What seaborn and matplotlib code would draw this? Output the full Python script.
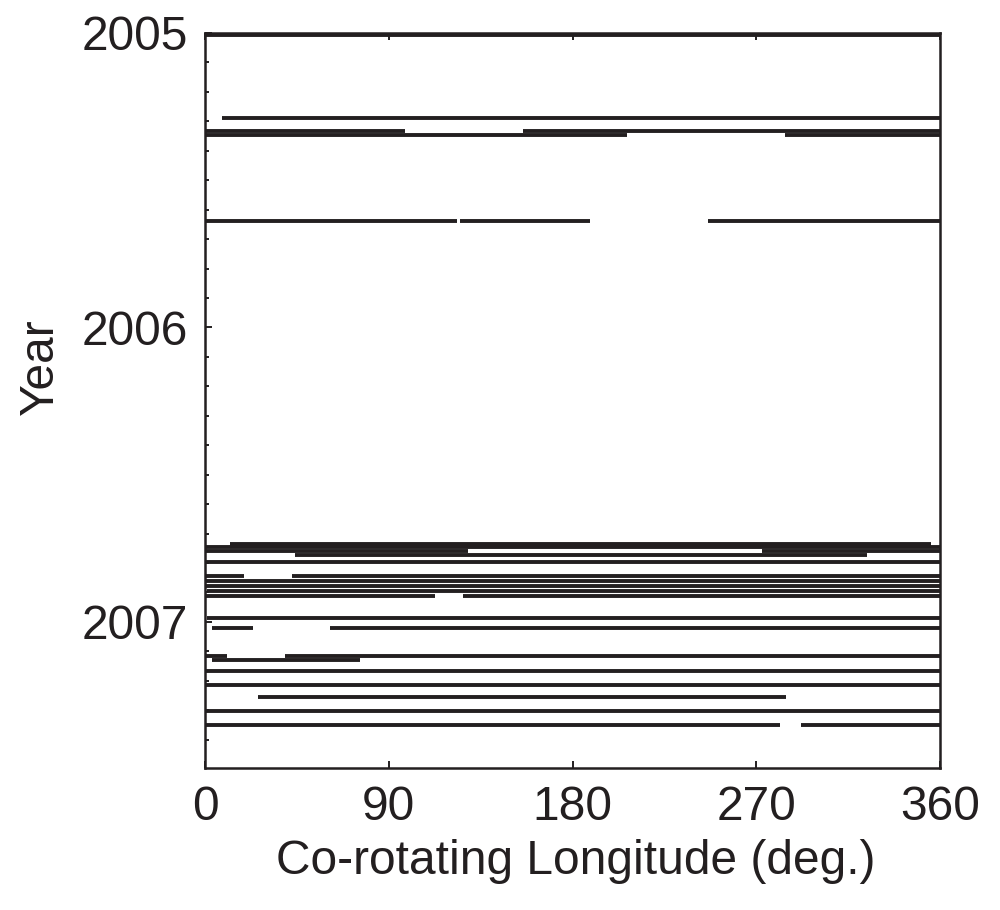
import numpy as np
import pandas as pd
import matplotlib
matplotlib.use("Agg")
import matplotlib.pyplot as plt
import seaborn as sns
from matplotlib.ticker import MultipleLocator

# Observation tracks: each row is one horizontal segment (year, longitude span)
seg_year = [
    2005.006, 2005.287,
    2005.334, 2005.334,
    2005.348, 2005.348,
    2005.640, 2005.640, 2005.640,
    2006.737, 2006.747,
    2006.759, 2006.759,
    2006.772, 2006.797,
    2006.845, 2006.845,
    2006.862, 2006.879, 2006.895,
    2006.912, 2006.912,
    2006.987,
    2007.021, 2007.021,
    2007.114, 2007.114,
    2007.129, 2007.168, 2007.214, 2007.256, 2007.302,
    2007.351, 2007.351,
]
seg_lon_start = [
    0.0, 8.3,
    0.0, 155.8,
    0.0, 284.0,
    0.0, 124.9, 246.4,
    12.2, 0.0,
    0.0, 272.8,
    44.0, 0.0,
    0.0, 42.5,
    0.0, 0.0, 1.0,
    0.0, 126.4,
    1.0,
    3.3, 61.2,
    0.0, 39.2,
    3.3, 0.0, 0.0, 26.2, 0.0,
    0.0, 291.7,
]
seg_lon_end = [
    360.0, 360.0,
    98.0, 360.0,
    206.7, 360.0,
    123.4, 188.6, 360.0,
    355.6, 360.0,
    128.8, 360.0,
    324.3, 360.0,
    19.0, 360.0,
    360.0, 360.0, 360.0,
    112.7, 360.0,
    360.0,
    23.7, 360.0,
    10.7, 360.0,
    76.0, 360.0, 360.0, 284.7, 360.0,
    281.5, 360.0,
]

x_ticks = [0, 90, 180, 270, 360]
y_ticks = [2005, 2006, 2007]

INK = "#231f20"
FS = 34.5

sns.set_theme(style="ticks")
plt.rcParams["font.family"] = ["Liberation Sans", "DejaVu Sans"]

segments = pd.DataFrame({
    "seg": np.repeat(np.arange(len(seg_year)), 2),
    "lon": np.ravel(np.column_stack([seg_lon_start, seg_lon_end])),
    "year": np.repeat(seg_year, 2),
})

fig = plt.figure(figsize=(10, 9.1), dpi=100)
ax = fig.add_axes([0.205, 1 - 768 / 910, 0.735, 735 / 910])

sns.lineplot(
    data=segments, x="lon", y="year", units="seg", estimator=None,
    sort=False, color=INK, linewidth=2.8, solid_capstyle="butt",
    legend=False, ax=ax,
)
for line in ax.get_lines():
    line.set_linewidth(2.8)
    line.set_clip_on(False)

ax.set_xlim(0, 360)
ax.set_ylim(2007.496, 2005)
ax.grid(False)

ax.set_xticks(x_ticks)
ax.set_xticklabels([str(v) for v in x_ticks])
ax.set_yticks(y_ticks)
ax.set_yticklabels([str(v) for v in y_ticks])
ax.yaxis.set_minor_locator(MultipleLocator(0.1))

ax.tick_params(axis="both", which="major", direction="in", length=5,
               width=1.4, colors=INK, labelsize=FS, pad=12)
ax.tick_params(axis="x", which="both", top=True, bottom=True)
ax.tick_params(axis="y", which="both", left=True, right=False)
ax.tick_params(axis="y", which="minor", direction="in", length=3,
               width=1.4, color=INK)

for spine in ax.spines.values():
    spine.set_visible(True)
    spine.set_linewidth(1.8)
    spine.set_color(INK)

ax.set_xlabel("Co-rotating Longitude (deg.)", fontsize=FS, color=INK)
ax.xaxis.label.set_va("center")
ax.xaxis.set_label_coords(0.505, -0.127)

ax.set_ylabel("Year", fontsize=FS, color=INK)
ax.yaxis.label.set_va("center")
ax.yaxis.set_label_coords(-0.2245, 0.546)

fig.savefig("out.png", dpi=100)
